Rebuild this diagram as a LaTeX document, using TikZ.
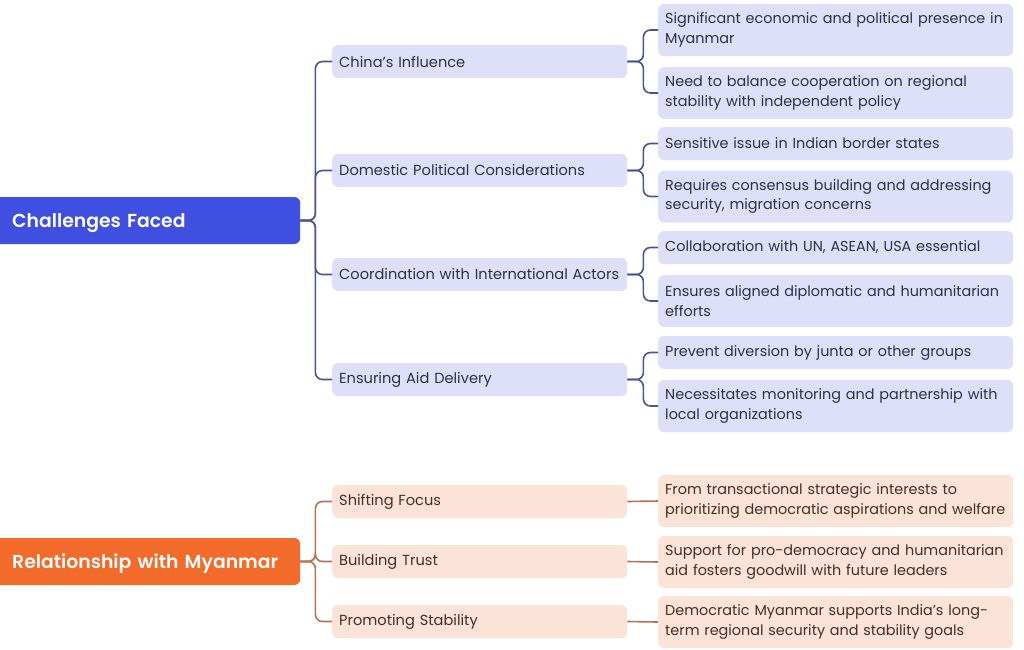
\documentclass[tikz,border=0pt]{standalone}
\usepackage{fontspec}
\setmainfont{Poppins}
\newfontfamily\boldfont{Poppins SemiBold}
\definecolor{rootblue}{HTML}{3F4FE0}
\definecolor{rootorange}{HTML}{F26B2A}
\definecolor{lblue}{HTML}{DDE0F8}
\definecolor{lorange}{HTML}{FCE3D8}
\definecolor{tblue}{HTML}{2E3048}
\definecolor{torange}{HTML}{4A2C22}
\definecolor{cblue}{HTML}{4B5590}
\definecolor{corange}{HTML}{B57355}
\hbadness=10000 \hfuzz=200pt
\tikzset{
  rootbox/.style={draw=none, rounded corners=6pt, anchor=west, minimum height=47pt, minimum width=310pt, text=white, font=\boldfont\fontsize{18.8}{22}\selectfont, align=left, inner xsep=22pt, text width=266pt, text height=14pt, text depth=0pt},
  lonebox/.style={draw=none, rounded corners=6pt, anchor=west, minimum height=33pt, minimum width=295pt, text width=281pt, inner xsep=7pt, align=left, font=\fontsize{14.6}{18}\selectfont},
  ltwobox/.style={draw=none, rounded corners=6pt, anchor=west, minimum width=355pt, text width=341pt, inner xsep=7pt, align=left, font=\fontsize{14.4}{19.5}\selectfont},
  bl/.style={fill=lblue, text=tblue},
  ol/.style={fill=lorange, text=torange},
  conn/.style={line width=1.6pt, rounded corners=7pt},
}
\begin{document}
\begin{tikzpicture}[x=1pt,y=-1pt]
\useasboundingbox[fill=white] (0,0) rectangle (1024,649);
% roots
\node[rootbox, fill=rootblue] (r1) at (-10,220.5) {\mbox{Challenges Faced}};
\node[rootbox, fill=rootorange] (r2) at (-10,561.5) {\mbox{Relationship with Myanmar}};
% level 1 blue
\node[lonebox,bl] (c1) at (332,61.5) {China’s Influence};
\node[lonebox,bl] (c2) at (332,170.5) {Domestic Political Considerations};
\node[lonebox,bl] (c3) at (332,274.5) {\mbox{Coordination with International Actors}};
\node[lonebox,bl] (c4) at (332,379.5) {Ensuring Aid Delivery};
% level 2 blue
\node[ltwobox,bl,minimum height=52pt] (d1) at (658,30) {\mbox{Significant economic and political presence in}\\Myanmar};
\node[ltwobox,bl,minimum height=52pt] (d2) at (658,93) {\mbox{Need to balance cooperation on regional}\\\mbox{stability with independent policy}};
\node[ltwobox,bl,minimum height=33pt] (d3) at (658,143.5) {\mbox{Sensitive issue in Indian border states}};
\node[ltwobox,bl,minimum height=52pt] (d4) at (658,196.5) {\mbox{Requires consensus building and addressing}\\\mbox{security, migration concerns}};
\node[ltwobox,bl,minimum height=33pt] (d5) at (658,247.5) {\mbox{Collaboration with UN, ASEAN, USA essential}};
\node[ltwobox,bl,minimum height=52pt] (d6) at (658,301) {\mbox{Ensures aligned diplomatic and humanitarian}\\efforts};
\node[ltwobox,bl,minimum height=33pt] (d7) at (658,352.5) {\mbox{Prevent diversion by junta or other groups}};
\node[ltwobox,bl,minimum height=52pt] (d8) at (658,406) {\mbox{Necessitates monitoring and partnership with}\\\mbox{local organizations}};
% level 1 orange
\node[lonebox,ol] (e1) at (332,501.5) {Shifting Focus};
\node[lonebox,ol] (e2) at (332,561.5) {Building Trust};
\node[lonebox,ol] (e3) at (332,621.5) {Promoting Stability};
% level 2 orange
\node[ltwobox,ol,minimum height=52pt] (f1) at (658,501) {\mbox{From transactional strategic interests to}\\\mbox{prioritizing democratic aspirations and welfare}};
\node[ltwobox,ol,minimum height=52pt] (f2) at (658,562) {\mbox{Support for pro-democracy and humanitarian}\\\mbox{aid fosters goodwill with future leaders}};
\node[ltwobox,ol,minimum height=52pt] (f3) at (658,622) {\mbox{Democratic Myanmar supports India’s long-}\\\mbox{term regional security and stability goals}};
% connectors blue
\foreach \c in {c1,c2,c3,c4}
  \draw[conn,cblue] (r1.east) -- ++(15,0) |- (\c.west);
\foreach \a/\b in {c1/d1,c1/d2,c2/d3,c2/d4,c3/d5,c3/d6,c4/d7,c4/d8}
  \draw[conn,cblue] (\a.east) -- ++(16,0) |- (\b.west);
% connectors orange
\foreach \c in {e1,e2,e3}
  \draw[conn,corange] (r2.east) -- ++(15,0) |- (\c.west);
\foreach \a/\b in {e1/f1,e2/f2,e3/f3}
  \draw[conn,corange] (\a.east) -- (\b.west);
\end{tikzpicture}
\end{document}
